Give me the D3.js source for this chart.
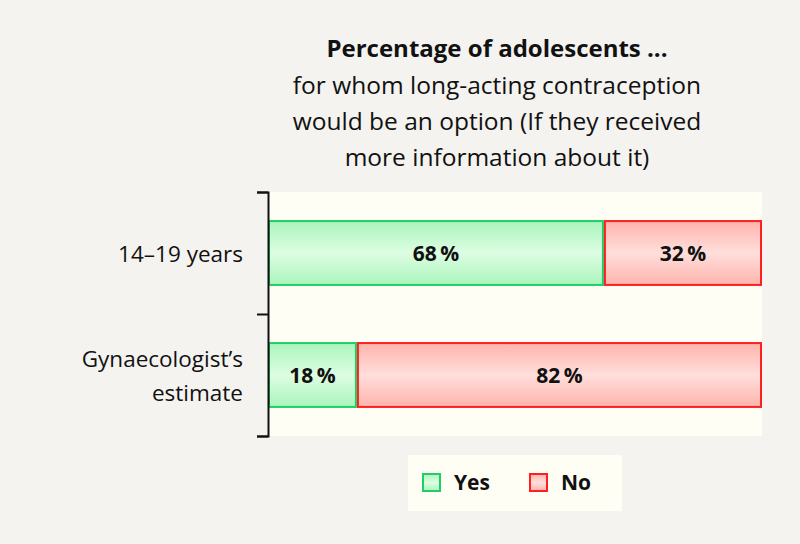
<!DOCTYPE html>
<html><head><meta charset="utf-8">
<script src="https://cdn.jsdelivr.net/npm/d3@7"></script>
<style>
html,body{margin:0;padding:0;background:#f4f3f0;}
svg{display:block;font-family:"Open Sans",sans-serif;}
</style></head>
<body>
<svg id="chart" width="800" height="544"></svg>
<script>
const categories = ["14–19 years", "Gynaecologist’s estimate"];
const categoryLines = [["14–19 years"], ["Gynaecologist’s", "estimate"]];
const seriesNames = ["Yes", "No"];
const yesValues = [68, 18];
const noValues = [32, 82];
const titleBold = "Percentage of adolescents ...";
const titleLines = ["for whom long-acting contraception", "would be an option (If they received", "more information about it)"];

const svg = d3.select("#chart");
const plot = {left: 268, right: 762, top: 192, bottom: 436};

const defs = svg.append("defs");
function grad(id, edge, mid){
  const g = defs.append("linearGradient").attr("id", id).attr("x1",0).attr("y1",0).attr("x2",0).attr("y2",1);
  g.append("stop").attr("offset","0%").attr("stop-color",edge);
  g.append("stop").attr("offset","50%").attr("stop-color",mid);
  g.append("stop").attr("offset","100%").attr("stop-color",edge);
}
grad("gYes", "#aaf5bc", "#ddfde2");
grad("gNo", "#ffb4ac", "#ffdedb");
const fills = {Yes: "url(#gYes)", No: "url(#gNo)"};
const strokes = {Yes: "#1fcf66", No: "#ff1f1f"};

// plot background
svg.append("rect").attr("x", plot.left).attr("y", plot.top)
  .attr("width", plot.right - plot.left).attr("height", plot.bottom - plot.top)
  .attr("fill", "#fffef5");

const x = d3.scaleLinear().domain([0, 100]).range([plot.left, plot.right]);
const y = d3.scaleBand().domain(categories).range([plot.top, plot.bottom])
  .paddingInner(0.46).paddingOuter(0.23);
const yEdge = d3.scaleLinear().domain([0, categories.length]).range([plot.top, plot.bottom]);

const data = categories.map((c, i) => ({cat: c, Yes: yesValues[i], No: noValues[i]}));
const stack = d3.stack().keys(seriesNames)(data);

const layers = svg.append("g").selectAll("g").data(stack).join("g");
layers.selectAll("rect").data(d => d.map(v => ({key: d.key, v}))).join("rect")
  .attr("x", d => x(d.v[0]) + 1)
  .attr("y", d => y(d.v.data.cat) + 1)
  .attr("width", d => x(d.v[1]) - x(d.v[0]) - 2)
  .attr("height", y.bandwidth() - 2)
  .attr("fill", d => fills[d.key])
  .attr("stroke", d => strokes[d.key])
  .attr("stroke-width", 2);

layers.selectAll("text").data(d => d.map(v => ({key: d.key, v}))).join("text")
  .attr("x", d => (x(d.v[0]) + x(d.v[1])) / 2)
  .attr("y", d => y(d.v.data.cat) + y.bandwidth() / 2)
  .attr("text-anchor", "middle").attr("dominant-baseline", "central")
  .attr("font-size", 21).attr("font-weight", "bold").attr("fill", "#111")
  .text(d => (d.v[1] - d.v[0]) + "\u2009%");

// axis
const axis = d3.axisLeft(yEdge).ticks(categories.length).tickSize(11).tickFormat("");
const ag = svg.append("g").attr("transform", `translate(${plot.left},0)`).call(axis);
ag.selectAll("path,line").attr("stroke", "#111").attr("stroke-width", 2);

// category labels
const labG = svg.append("g");
categories.forEach((c, i) => {
  const lines = categoryLines[i];
  const cy = y(c) + y.bandwidth() / 2;
  const lh = 34;
  const t = labG.append("text").attr("text-anchor", "end").attr("font-size", 22.5).attr("fill", "#111");
  lines.forEach((l, j) => {
    t.append("tspan").attr("x", 243)
      .attr("y", cy + (j - (lines.length - 1) / 2) * lh)
      .attr("dominant-baseline", "central").text(l);
  });
});

// title
const tg = svg.append("g").attr("fill", "#111").attr("text-anchor", "middle");
tg.append("text").attr("x", 497).attr("y", 47).attr("dominant-baseline", "central")
  .attr("font-size", 24).attr("font-weight", "bold").text(titleBold);
titleLines.forEach((l, i) => {
  tg.append("text").attr("x", 497).attr("y", 84 + i * 36).attr("dominant-baseline", "central")
    .attr("font-size", 24.5).text(l);
});

// legend
const lg = svg.append("g");
lg.append("rect").attr("x", 408).attr("y", 455).attr("width", 214).attr("height", 56).attr("fill", "#fffef5");
const legX = [422, 529];
seriesNames.forEach((s, i) => {
  lg.append("rect").attr("x", legX[i] + 1).attr("y", 474).attr("width", 17).attr("height", 17)
    .attr("fill", fills[s]).attr("stroke", strokes[s]).attr("stroke-width", 2);
  lg.append("text").attr("x", legX[i] + 32).attr("y", 482).attr("dominant-baseline", "central")
    .attr("font-size", 21).attr("font-weight", "bold").attr("fill", "#111").text(s);
});
</script>
</body></html>
